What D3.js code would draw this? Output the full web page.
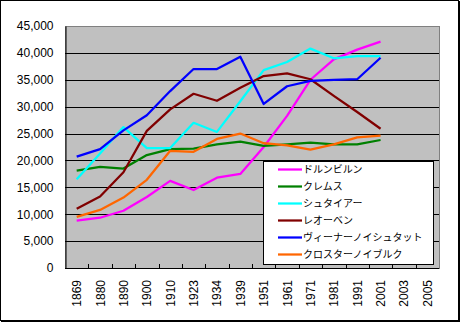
<!DOCTYPE html>
<html>
<head>
<meta charset="utf-8">
<script src="https://cdn.jsdelivr.net/npm/d3@7"></script>
<style>
  html, body { margin: 0; padding: 0; background: #fff; }
  svg { display: block; }
</style>
</head>
<body>
<svg id="chart" width="461" height="323"></svg>
<script>
// Census years on the category axis
const years = ["1869", "1880", "1890", "1900", "1910", "1923", "1934", "1939",
               "1951", "1961", "1971", "1981", "1991", "2001", "2003", "2005"];

// Population per town (no data for 2003 / 2005)
const dornbirn = [8800, 9350, 10650, 13200, 16200, 14500, 16800, 17500, 22500, 28300, 35000, 38800, 40600, 42100, null, null];
const krems = [18100, 18800, 18500, 21000, 22100, 22200, 23000, 23500, 22700, 23000, 23300, 23000, 23000, 23800, null, null];
const steyr = [16500, 21300, 26200, 22300, 22300, 27000, 25300, 31000, 36800, 38300, 40800, 39000, 39400, 39400, null, null];
const leoben = [11000, 13300, 17800, 25500, 29500, 32400, 31100, 33500, 35700, 36200, 35100, 32000, 29000, 25900, null, null];
const wienerNeustadt = [20700, 22100, 25600, 28400, 32900, 37000, 37000, 39300, 30500, 33800, 34800, 35000, 35100, 39100, null, null];
const klosterneuburg = [9500, 10800, 13100, 16400, 21800, 21600, 24000, 25000, 23200, 22800, 22000, 23000, 24300, 24600, null, null];

const seriesNames = ["ドルンビルン", "クレムス", "シュタイアー", "レオーベン", "ヴィーナーノイシュタット", "クロスターノイブルク"];
const seriesValues = [dornbirn, krems, steyr, leoben, wienerNeustadt, klosterneuburg];
const seriesColors = ["#FF00FF", "#008000", "#00FFFF", "#800000", "#0000FF", "#FF6600"];

const yTicks = [0, 5000, 10000, 15000, 20000, 25000, 30000, 35000, 40000, 45000];

const svg = d3.select("#chart");
const plot = { left: 65, right: 439, top: 26, bottom: 268 };

const x = d3.scaleBand().domain(years).range([plot.left, plot.right]).padding(0);
const y = d3.scaleLinear().domain([0, 45000]).range([plot.bottom, plot.top]);
const cx = d => x(d) + x.bandwidth() / 2;

// Chart area frame with a slight shadow on the right and bottom
svg.append("rect").attr("x", 0.5).attr("y", 0.5).attr("width", 458).attr("height", 320)
  .attr("fill", "#fff").attr("stroke", "#000").attr("stroke-width", 1);
svg.append("line").attr("x1", 459.5).attr("x2", 459.5).attr("y1", 1).attr("y2", 322)
  .attr("stroke", "#000");
svg.append("line").attr("x1", 1).attr("x2", 460).attr("y1", 321.5).attr("y2", 321.5)
  .attr("stroke", "#000");

// Plot area
svg.append("rect")
  .attr("x", plot.left).attr("y", plot.top)
  .attr("width", plot.right - plot.left).attr("height", plot.bottom - plot.top)
  .attr("fill", "#C0C0C0").attr("stroke", "#808080").attr("stroke-width", 1)
  .attr("shape-rendering", "crispEdges");

// Horizontal gridlines
svg.append("g").selectAll("line")
  .data(yTicks.filter(t => t > 0 && t < 45000))
  .join("line")
  .attr("x1", plot.left).attr("x2", plot.right)
  .attr("y1", d => Math.round(y(d)) + 0.5).attr("y2", d => Math.round(y(d)) + 0.5)
  .attr("stroke", "#000").attr("stroke-width", 1);

// Y axis
const yAxis = svg.append("g")
  .attr("transform", `translate(${plot.left + 0.5},0)`)
  .call(d3.axisLeft(y).tickValues(yTicks).tickFormat(d3.format(",")).tickSize(0).tickPadding(12));
yAxis.select(".domain").attr("stroke", "#000");
yAxis.selectAll("text")
  .attr("font-family", "'Liberation Sans', Arial, sans-serif")
  .attr("font-size", 12).attr("fill", "#000");

// X axis: tick marks at category boundaries, labels rotated
const xAxis = svg.append("g");
xAxis.append("line")
  .attr("x1", plot.left).attr("x2", plot.right)
  .attr("y1", plot.bottom + 0.5).attr("y2", plot.bottom + 0.5)
  .attr("stroke", "#000");
xAxis.selectAll("line.tick")
  .data(years.slice(1))
  .join("line")
  .attr("class", "tick")
  .attr("x1", d => Math.round(x(d)) + 0.5).attr("x2", d => Math.round(x(d)) + 0.5)
  .attr("y1", plot.bottom - 4).attr("y2", plot.bottom + 1)
  .attr("stroke", "#000");
xAxis.selectAll("text")
  .data(years)
  .join("text")
  .attr("transform", d => `translate(${cx(d) + 4.5},${plot.bottom + 12}) rotate(-90)`)
  .attr("text-anchor", "end")
  .attr("font-family", "'Liberation Sans', Arial, sans-serif")
  .attr("font-size", 12)
  .attr("fill", "#000")
  .text(d => d);

// Series lines
const line = d3.line()
  .defined(d => d.v !== null)
  .x(d => cx(d.year))
  .y(d => y(d.v));

svg.append("g").selectAll("path")
  .data(seriesValues.map((vals, i) => ({ color: seriesColors[i], pts: vals.map((v, j) => ({ year: years[j], v })) })))
  .join("path")
  .attr("d", d => line(d.pts))
  .attr("fill", "none")
  .attr("stroke", d => d.color)
  .attr("stroke-width", 2.25)
  .attr("stroke-linejoin", "round");

// Legend
const legend = svg.append("g");
legend.append("rect")
  .attr("x", 263.5).attr("y", 161.5).attr("width", 170).attr("height", 103)
  .attr("fill", "#fff").attr("stroke", "#000").attr("stroke-width", 1);
const rows = legend.selectAll("g.row")
  .data(seriesNames)
  .join("g")
  .attr("class", "row")
  .attr("transform", (d, i) => `translate(0,${169.5 + i * 17})`);
rows.append("line")
  .attr("x1", 278).attr("x2", 302)
  .attr("y1", 0).attr("y2", 0)
  .attr("stroke", (d, i) => seriesColors[i])
  .attr("stroke-width", 2.25);
rows.append("text")
  .attr("x", 303).attr("y", 0).attr("dy", "0.36em")
  .attr("font-family", "'Noto Sans CJK JP', sans-serif")
  .attr("font-size", 10)
  .attr("fill", "#000")
  .text(d => d);
</script>
</body>
</html>
